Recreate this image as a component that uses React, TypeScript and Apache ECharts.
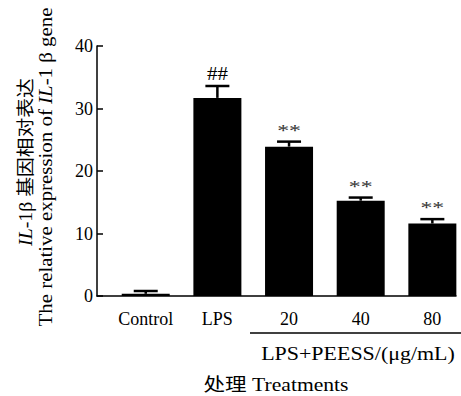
import React, { useEffect, useRef } from "react";
import * as echarts from "echarts";

const categories = ["Control", "LPS", "20", "40", "80"];
const means = [0.35, 31.7, 23.9, 15.25, 11.6];
const errors = [0.45, 1.9, 0.8, 0.5, 0.7];
const marks = ["", "##", "**", "**", "**"];
const yTicks = [0, 10, 20, 30, 40];

const SERIF = "'Liberation Serif', 'Times New Roman', serif";
const CJK = "'Liberation Serif', 'Noto Sans CJK SC', serif";

export default function App() {
  const ref = useRef<HTMLDivElement>(null);
  useEffect(() => {
    if (!ref.current) return;
    const chart = echarts.init(ref.current, null, { renderer: "svg" });
    const barData = means.map((v, i) => [i, v]);
    const errData = means.map((v, i) => [i, v, v + errors[i]]);
    chart.setOption({
      animation: false,
      backgroundColor: "#fff",
      grid: { left: 97, right: 5, top: 46, bottom: 100 },
      xAxis: {
        type: "value",
        min: -0.68,
        max: 4.33,
        splitLine: { show: false },
        axisLine: { show: true, onZero: false, lineStyle: { color: "#000", width: 1.5 } },
        axisTick: { show: false },
        axisLabel: {
          customValues: [0, 1, 2, 3, 4],
          formatter: (v: number) => categories[Math.round(v)] ?? "",
          color: "#000",
          fontFamily: SERIF,
          fontSize: 18,
          margin: 14,
        },
      },
      yAxis: {
        type: "value",
        min: yTicks[0],
        max: yTicks[yTicks.length - 1],
        interval: 10,
        splitLine: { show: false },
        axisLine: { show: true, onZero: false, lineStyle: { color: "#000", width: 1.5 } },
        axisTick: { show: true, inside: true, length: 6, lineStyle: { color: "#000", width: 1.5 } },
        axisLabel: { color: "#000", fontFamily: SERIF, fontSize: 18, margin: 4 },
      },
      series: [
        {
          type: "bar",
          data: barData,
          barWidth: 48,
          itemStyle: { color: "#000" },
        },
        {
          type: "custom",
          data: errData,
          encode: { x: 0, y: [1, 2] },
          renderItem: (params: any, api: any) => {
            const i = api.value(0);
            const top = api.coord([i, api.value(2)]);
            const base = api.coord([i, api.value(1)]);
            const half = 12;
            const idx = params.dataIndex;
            const children: any[] = [
              {
                type: "line",
                shape: { x1: top[0], y1: top[1], x2: base[0], y2: base[1] },
                style: { stroke: "#000", lineWidth: 2.5 },
              },
              {
                type: "line",
                shape: { x1: top[0] - half, y1: top[1], x2: top[0] + half, y2: top[1] },
                style: { stroke: "#000", lineWidth: 2.5 },
              },
            ];
            if (marks[idx]) {
              children.push({
                type: "text",
                x: top[0],
                y: top[1] - 3,
                scaleX: idx === 1 ? 1.1 : 1.4,
                style: {
                  text: marks[idx],
                  fill: idx === 1 ? "#000" : "#333",
                  font: `${idx === 1 ? 19 : 17}px ${SERIF}`,
                  align: "center",
                  verticalAlign: "bottom",
                },
              });
            }
            return { type: "group", children };
          },
          z: 5,
        },
      ],
      graphic: [
        {
          type: "text",
          x: 26,
          y: 162,
          rotation: Math.PI / 2,
          scaleX: 1.1,
          style: {
            text: "{it|IL}-1β 基因相对表达",
            font: `18px ${CJK}`,
            fill: "#000",
            align: "center",
            verticalAlign: "middle",
            rich: {
              it: { fontStyle: "italic", fontFamily: CJK, fontSize: 18, fill: "#000" },
            },
          },
        },
        {
          type: "text",
          x: 46,
          y: 167,
          rotation: Math.PI / 2,
          scaleX: 1.16,
          style: {
            text: "The relative expression of {it|IL}-1 β gene",
            font: `18px ${SERIF}`,
            fill: "#000",
            align: "center",
            verticalAlign: "middle",
            rich: {
              it: { fontStyle: "italic", fontFamily: SERIF, fontSize: 18, fill: "#000" },
            },
          },
        },
        {
          type: "line",
          shape: { x1: 250, y1: 333, x2: 461, y2: 333 },
          style: { stroke: "#000", lineWidth: 1.5 },
        },
        {
          type: "text",
          x: 358,
          y: 354,
          scaleX: 1.22,
          style: {
            text: "LPS+PEESS/(μg/mL)",
            font: `18px ${SERIF}`,
            fill: "#000",
            align: "center",
            verticalAlign: "middle",
          },
        },
        {
          type: "text",
          x: 276,
          y: 385,
          scaleX: 1.2,
          style: {
            text: "处理 Treatments",
            font: `18px ${CJK}`,
            fill: "#000",
            align: "center",
            verticalAlign: "middle",
          },
        },
      ],
    });
    return () => chart.dispose();
  }, []);
  return <div ref={ref} style={{ width: 461, height: 396, position: "absolute", left: 0, top: 0 }} />;
}
